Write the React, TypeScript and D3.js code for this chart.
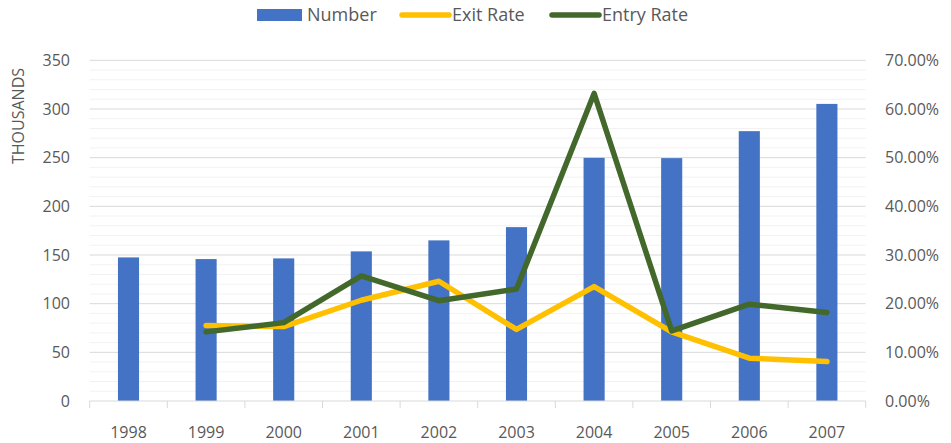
import React from "react";
import * as d3 from "d3";

const years = ["1998", "1999", "2000", "2001", "2002", "2003", "2004", "2005", "2006", "2007"];
const numberThousands = [147.5, 145.8, 146.5, 153.7, 165, 178.6, 249.8, 249.5, 277.2, 305.2];
const exitRate: (number | null)[] = [null, 15.5, 15.3, 20.7, 24.6, 14.7, 23.5, 14.2, 8.8, 8.1];
const entryRate: (number | null)[] = [null, 14.2, 16.1, 25.7, 20.6, 23.0, 63.2, 14.4, 19.9, 18.2];
const leftTicks = [0, 50, 100, 150, 200, 250, 300, 350];
const rightTicks = [0, 10, 20, 30, 40, 50, 60, 70];

const W = 951;
const H = 443;
const FONT = "'Open Sans', sans-serif";
const TEXT = "#595959";

export default function App() {
  const x = d3.scaleBand<string>().domain(years).range([89.7, 865.7]).padding(0);
  const yL = d3.scaleLinear().domain([0, 350]).range([401, 60.3]);
  const yR = d3.scaleLinear().domain([0, 70]).range([401, 60.3]);
  const barW = x.bandwidth() * 0.272;
  const cx = (y: string) => (x(y) as number) + x.bandwidth() / 2;

  const line = d3
    .line<number | null>()
    .defined((d) => d !== null)
    .x((_, i) => cx(years[i]))
    .y((d) => yR(d as number));

  const minor = d3.range(10, 350, 10).filter((v) => v % 50 !== 0);

  return (
    <div>
      <style>{`body{margin:0}`}</style>
      <svg width={W} height={H} style={{ display: "block", background: "#fff" }}>
        {/* minor gridlines */}
        {minor.map((v) => (
          <line key={"m" + v} x1={89.7} x2={865.7} y1={yL(v)} y2={yL(v)} stroke="#F2F2F2" strokeWidth={1} />
        ))}
        {/* major gridlines */}
        {leftTicks.filter((v) => v > 0).map((v) => (
          <line key={"g" + v} x1={89.7} x2={865.7} y1={yL(v)} y2={yL(v)} stroke="#D9D9D9" strokeWidth={1} />
        ))}
        {/* bars */}
        {years.map((yr, i) => (
          <rect
            key={"b" + yr}
            x={cx(yr) - barW / 2}
            y={yL(numberThousands[i])}
            width={barW}
            height={yL(0) - yL(numberThousands[i])}
            fill="#4472C4"
          />
        ))}
        {/* x axis */}
        <line x1={89.7} x2={865.7} y1={yL(0)} y2={yL(0)} stroke="#D9D9D9" strokeWidth={1} />
        {years.map((yr) => (
          <line key={"t" + yr} x1={x(yr) as number} x2={x(yr) as number} y1={yL(0)} y2={yL(0) + 7} stroke="#D9D9D9" />
        ))}
        <line x1={865.7} x2={865.7} y1={yL(0)} y2={yL(0) + 7} stroke="#D9D9D9" />
        {/* lines */}
        <path d={line(exitRate) || ""} fill="none" stroke="#FFC000" strokeWidth={5.5} strokeLinejoin="round" strokeLinecap="round" />
        <path d={line(entryRate) || ""} fill="none" stroke="#43682B" strokeWidth={5.5} strokeLinejoin="round" strokeLinecap="round" />
        {/* left axis labels */}
        {leftTicks.map((v) => (
          <text key={"l" + v} x={70} y={yL(v)} dy="0.35em" textAnchor="end" fontFamily={FONT} fontSize={16} fill={TEXT}>
            {v}
          </text>
        ))}
        {/* right axis labels */}
        {rightTicks.map((v) => (
          <text key={"r" + v} x={885} y={yR(v)} dy="0.35em" textAnchor="start" fontFamily={FONT} fontSize={16} fill={TEXT}>
            {v.toFixed(2) + "%"}
          </text>
        ))}
        {/* x labels */}
        {years.map((yr) => (
          <text key={"x" + yr} x={cx(yr)} y={432} dy="0.35em" textAnchor="middle" fontFamily={FONT} fontSize={16} fill={TEXT}>
            {yr}
          </text>
        ))}
        {/* y axis title */}
        <text
          transform="translate(18,116) rotate(-90)"
          textAnchor="middle"
          dy="0.35em"
          fontFamily={FONT}
          fontSize={16}
          fill={TEXT}
        >
          THOUSANDS
        </text>
        {/* legend */}
        <rect x={257} y={9} width={45} height={12} fill="#4472C4" />
        <text x={307} y={15} dy="0.35em" fontFamily={FONT} fontSize={18} fill={TEXT}>Number</text>
        <line x1={402} x2={449} y1={15} y2={15} stroke="#FFC000" strokeWidth={5.5} strokeLinecap="round" />
        <text x={452} y={15} dy="0.35em" fontFamily={FONT} fontSize={18} fill={TEXT}>Exit Rate</text>
        <line x1={552} x2={599} y1={15} y2={15} stroke="#43682B" strokeWidth={5.5} strokeLinecap="round" />
        <text x={602} y={15} dy="0.35em" fontFamily={FONT} fontSize={18} fill={TEXT}>Entry Rate</text>
      </svg>
    </div>
  );
}
